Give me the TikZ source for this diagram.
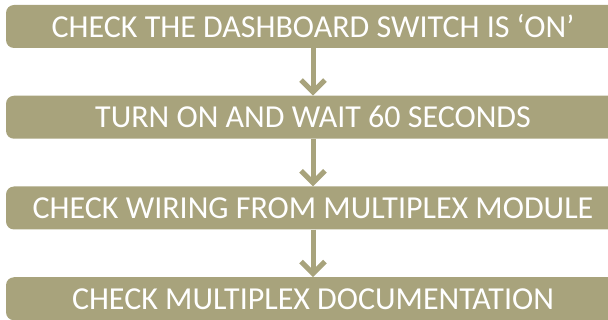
\documentclass[tikz,border=0pt]{standalone}
\usepackage{fontspec}
\setmainfont{Carlito}
\usepackage{xcolor}
\usepackage{tikz}
\usetikzlibrary{arrows.meta}

\definecolor{olive}{HTML}{A8A37C}

\begin{document}
\begin{tikzpicture}[node distance=90.75pt]
        \tikzset{
            stepbox/.style={shape = rectangle, fill=olive, rounded corners=8pt, text=white,
                minimum width=614pt, minimum height=43pt, inner sep=0pt, font=\fontsize{32}{34}\selectfont},
            flow/.style={draw=olive, line width=5pt, -{Straight Barb[length=12pt, width=24pt]}}
        }
        \useasboundingbox (0,0) rectangle (608pt,-320pt);
        \node[stepbox] (A) at (313pt,-26.5pt) {CHECK THE DASHBOARD SWITCH IS ‘ON’};
        \node[stepbox] (B) [below of= A] {TURN ON AND WAIT 60 SECONDS};
        \node[stepbox] (C) [below of= B] {CHECK WIRING FROM MULTIPLEX MODULE};
        \node[stepbox] (D) [below of= C] {CHECK MULTIPLEX DOCUMENTATION};
        \path (A) edge [flow]              node {} (B);
        \path (B) edge [flow]              node {} (C);
        \path (C) edge [flow]              node {} (D);
    \end{tikzpicture}
\end{document}
